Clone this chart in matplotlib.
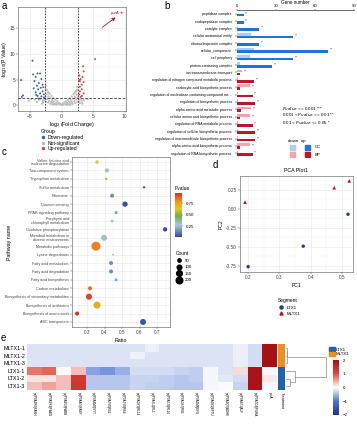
import numpy as np
import matplotlib
matplotlib.use("Agg")
import matplotlib.pyplot as plt
from matplotlib.colors import LinearSegmentedColormap, ListedColormap
from matplotlib.lines import Line2D
from matplotlib.patches import Patch
from matplotlib.ticker import MultipleLocator

plt.rcParams['font.family'] = ['Liberation Sans', 'DejaVu Sans']

# ---- a: volcano ----
ns_x = [0.0, 0.15, -0.15, 0.3, -0.3, 0.45, -0.45, 0.6, -0.6, 0.7, -0.7, 0.9, -0.9, 1.0, -1.0,
        1.1, -1.1, 1.2, -1.2, 1.3, -1.3, 1.4, -1.4, 1.5, -1.5, 1.6, -1.6, 1.7, -1.7, 1.8, -1.8,
        1.9, -1.9, 2.0, -2.0, 2.1, -2.1, 2.2, -2.2, 2.3, -2.3, 2.4, -2.4, 2.5, -2.5, 2.5, -2.5,
        2.55, -2.55, 2.45, -2.45, 2.35, -2.35, 2.15, -2.15, 1.75, -1.75, 0.85, -0.85, 1.35, -1.35,
        2.05, -2.05, 1.55, -1.55,
        2.8, 3.0, 3.2, 2.9, 3.5, 4.1, 3.3, -2.8, -3.0, -3.3, -3.6, -4.2, -4.8, -5.2, -2.9, -3.1, -3.9]
ns_y = [0.05, 0.3, 0.25, 0.1, 0.15, 0.5, 0.45, 0.2, 0.25, 0.7, 0.75, 0.4, 0.35, 1.0, 1.05,
        0.15, 0.2, 0.65, 0.7, 1.3, 1.4, 0.3, 0.35, 0.95, 1.0, 1.7, 1.8, 0.5, 0.6, 1.3, 1.35,
        2.1, 2.2, 0.8, 0.85, 1.6, 1.7, 2.5, 2.6, 1.1, 1.2, 2.0, 2.1, 3.0, 3.1, 0.6, 0.7,
        1.5, 1.6, 3.6, 3.8, 2.8, 3.0, 0.4, 0.5, 0.2, 0.25, 0.05, 0.08, 0.05, 0.1,
        2.3, 2.4, 0.6, 0.65,
        0.9, 1.1, 0.7, 0.4, 1.0, 1.2, 0.3, 1.0, 0.8, 1.2, 1.0, 1.1, 1.2, 0.9, 0.5, 0.3, 0.6]
down_x = [-4.6, -4.5, -3.8, -3.4, -4.1, -3.2, -4.3, -3.6, -3.9, -3.0, -4.4, -3.7, -3.3, -4.1,
          -3.4, -3.0, -3.8, -3.2, -6.1, -6.3, -2.8, -2.8, -3.6, -4.0, -2.9, -6.4]
down_y = [8.7, 6.0, 6.2, 6.2, 5.5, 5.1, 4.7, 4.3, 3.8, 4.0, 3.3, 3.1, 3.4, 2.5,
          2.3, 2.7, 1.8, 1.7, 1.9, 1.6, 2.1, 1.5, 1.3, 2.0, 3.5, 4.9]
up_x = [3.2, 2.9, 3.0, 3.3, 2.8, 2.9, 3.2, 2.9, 3.5, 2.8, 3.2, 3.0, 3.4, 3.5, 5.3, 2.8, 3.5, 9.5]
up_y = [4.0, 4.7, 5.1, 5.5, 4.9, 3.6, 3.1, 2.7, 2.3, 2.1, 1.8, 1.6, 7.6, 6.6, 9.0, 5.8, 4.5, 18.1]
fc_cut = 2.6
p_cut = 1.3

# ---- b: GO bars ----
go_terms = ['peptidase complex', 'endopeptidase complex', 'catalytic complex',
            'cellular anatomical entity', 'ribonucleoprotein complex', 'cellular_component',
            'cell periphery', 'protein-containing complex', 'ion transmembrane transport',
            'regulation of nitrogen compound metabolic process',
            'carboxylic acid biosynthetic process',
            'regulation of nucleobase-containing compound me...',
            'regulation of biosynthetic process', 'alpha-amino acid metabolic process',
            'cellular amino acid biosynthetic process', 'regulation of RNA metabolic process',
            'regulation of cellular biosynthetic process',
            'regulation of macromolecule biosynthetic process',
            'alpha-amino acid biosynthetic process', 'regulation of RNA biosynthetic process']
go_class = ['CC'] * 8 + ['BP'] * 12
go_down = [0, 0, 1, 11, 0, 13, 10, 2, 4, 1, 10, 1, 1, 11, 10, 1, 1, 1, 10, 1]
go_up = [5, 5, 17, 43, 17, 70, 43, 27, 2, 13, 2, 12, 14, 3, 2, 12, 14, 14, 2, 12]
go_star = ['***'] * 20

# ---- c: KEGG bubbles ----
kegg_terms = ['Valine, leucine and\nisoleucine degradation', 'Two-component system',
              'Tryptophan metabolism', 'Sulfur metabolism', 'Ribosome', 'Quorum sensing',
              'PPAR signaling pathway', 'Porphyrin and\nchlorophyll metabolism',
              'Oxidative phosphorylation', 'Microbial metabolism in\ndiverse environments',
              'Metabolic pathways', 'Lysine degradation', 'Fatty acid metabolism',
              'Fatty acid degradation', 'Fatty acid biosynthesis', 'Carbon metabolism',
              'Biosynthesis of secondary metabolites', 'Biosynthesis of antibiotics',
              'Biosynthesis of amino acids', 'ABC transporters']
kegg_ratio = [0.357, 0.414, 0.409, 0.626, 0.443, 0.517, 0.466, 0.443, 0.746, 0.397,
              0.351, 0.449, 0.437, 0.437, 0.466, 0.317, 0.311, 0.357, 0.243, 0.62]
kegg_count = [50, 73, 25, 25, 73, 130, 40, 40, 85, 165, 370, 18, 73, 73, 40, 73, 165, 220, 73, 165]
kegg_p = [0.62, 0.32, 0.55, 0.04, 0.15, 0.03, 0.18, 0.27, 0.02, 0.3,
          0.82, 0.28, 0.15, 0.15, 0.2, 0.85, 0.93, 0.72, 0.97, 0.03]

# ---- d: PCA ----
pca_group = ['LTX1', 'LTX1', 'LTX1', 'MLTX1', 'MLTX1', 'MLTX1']
pc1 = [0.20, 0.376, 0.519, 0.19, 0.475, 0.523]
pc2 = [-0.76, -0.49, -0.07, 0.09, 0.28, 0.37]

# ---- e: heatmap ----
hm_rows = ['MLTX1-1', 'MLTX1-2', 'MLTX1-3', 'LTX1-1', 'LTX1-2', 'LTX1-3']
hm_cols = ['sp|P0A6R0|FABH', 'sp|P0AEK4|FABG', 'sp|P0A953|FABB', 'sp|P0AAI5|FABF',
           'sp|P0A8M3|SYT', 'sp|P0A7V0|RS2', 'sp|P0A7V8|RS4', 'sp|P0ADY3|RL14',
           'sp|P0A7L0|RL1', 'sp|P0A7J3|RL10', 'sp|P0AG67|RS1', 'sp|P0A6M8|EFG',
           'sp|P0A6N1|EFTU', 'sp|P0A9Q7|ADHE', 'sp|P0AB71|ALF', 'sp|P0A7D4|PURA', 'purA']
hm_mltx1_1 = [-0.2, -0.2, -0.2, -0.2, -0.2, -0.2, -0.2, -0.2, -0.1, -0.2, -0.2, -0.2, -0.2, -0.2, -0.1, -0.25, 1.95]
hm_mltx1_2 = [-0.2, -0.2, -0.2, -0.2, -0.2, -0.2, -0.2, -0.08, -0.2, -0.2, -0.2, -0.2, -0.2, -0.2, -0.1, -0.25, 1.95]
hm_mltx1_3 = [-0.2, -0.2, -0.2, -0.2, -0.2, -0.2, -0.2, -0.2, -0.2, -0.2, -0.2, -0.2, -0.2, -0.2, -0.12, -0.25, 1.95]
hm_ltx1_1 = [0.75, 0.85, 0.02, 0.35, -0.65, -0.75, -0.55, -0.25, -0.25, -0.25, -0.3, -0.35, -0.05, -0.2, 0.2, 1.9, -0.05]
hm_ltx1_2 = [0.15, 0.15, 0.35, 1.25, -0.4, -0.4, -0.4, -0.3, -0.3, -0.35, -0.4, -0.35, -0.05, -0.15, -0.25, 1.9, 0.12]
hm_ltx1_3 = [0.35, 0.5, 0.35, 1.3, -0.4, -0.4, -0.4, -0.3, -0.35, -0.35, -0.4, -0.4, -0.05, -0.03, -0.3, 1.9, -0.05]
hm_treat = ['MLTX1', 'MLTX1', 'MLTX1', 'LTX1', 'LTX1', 'LTX1']
# row dendrogram merges: (left, right, height); ids >= 6 are earlier merges
hm_merges = [(0, 1, 0.05), (6, 2, 0.1), (4, 5, 0.4), (3, 8, 0.9), (7, 9, 4.0)]

W, H = 357, 425
fig = plt.figure(figsize=(W / 100, H / 100), dpi=100)


def box(x0, y0, x1, y1):
    return [x0 / W, 1 - y1 / H, (x1 - x0) / W, (y1 - y0) / H]


def bw(ax, fs=3.6):
    ax.set_facecolor('white')
    for s in ax.spines.values():
        s.set_color('#555555')
        s.set_linewidth(0.4)
    ax.grid(True, which='major', color='#e6e6e6', lw=0.4)
    ax.grid(True, which='minor', color='#f2f2f2', lw=0.3)
    ax.set_axisbelow(True)
    ax.tick_params(which='both', labelsize=fs, length=1.2, width=0.3, pad=1, colors='#444444')
    ax.tick_params(which='minor', length=0)


def letter(x, y, s):
    fig.text(x / W, 1 - y / H, s, fontsize=7, va='top', ha='left')


# ===== a =====
ax = fig.add_axes(box(18, 7, 126, 111))
bw(ax)
ax.tick_params(axis='y', pad=0.6)
ax.scatter(ns_x, ns_y, s=2.5, c='#bdbdbd', edgecolors='none')
ax.scatter(down_x, down_y, s=2, c='#3f5fae', edgecolors='none')
ax.scatter(up_x, up_y, s=2, c='#d8414f', edgecolors='none')
ax.axvline(-fc_cut, color='#333333', ls=(0, (2, 1.5)), lw=0.6)
ax.axvline(fc_cut, color='#333333', ls=(0, (2, 1.5)), lw=0.6)
ax.axhline(p_cut, color='#333333', ls=(0, (3, 2)), lw=0.6)
ax.annotate('', xy=(up_x[-1] - 0.6, up_y[-1] - 0.6), xytext=(6.1, 14.9),
            arrowprops=dict(arrowstyle='-|>', color='#c8102e', lw=0.6, mutation_scale=5))
ax.text(up_x[-1] - 0.4, up_y[-1], 'purA', color='#c8102e', fontsize=3, style='italic',
        ha='right', va='center')
ax.set_xlim(-6.9, 10.2)
ax.set_ylim(-1.15, 19.2)
ax.set_xticks([-5, 0, 5, 10])
ax.set_yticks([0, 5, 10, 15])
ax.xaxis.set_minor_locator(MultipleLocator(2.5))
ax.yaxis.set_minor_locator(MultipleLocator(2.5))
ax.set_xlabel('log$_2$ (Fold Change)', fontsize=3.8, labelpad=0.8)
ax.set_ylabel('-log$_{10}$(P Value)', fontsize=3.8, labelpad=0.3)
letter(2, 1, 'a')

hand_a = [Line2D([], [], marker='o', ls='', color=c, markersize=1.5)
          for c in ['#3f5fae', '#bdbdbd', '#d8414f']]
fig.legend(hand_a, ['Down-regulated', 'Not-significant', 'Up-regulated'], title='Group',
           loc='upper left', bbox_to_anchor=(38 / W, 1 - 127 / H), frameon=False,
           fontsize=3.6, title_fontsize=3.8, handlelength=1, handletextpad=0.5,
           labelspacing=0.1, borderpad=0, alignment='left')

# ===== b =====
light = {'CC': '#a9cff5', 'BP': '#f3a5a8'}
dark = {'CC': '#1f74d9', 'BP': '#c2142b'}
ax = fig.add_axes(box(237, 10, 354, 157))
yb = np.arange(len(go_terms))
ax.barh(yb - 0.19, go_down, height=0.36, color=[light[c] for c in go_class])
ax.barh(yb + 0.19, go_up, height=0.36, color=[dark[c] for c in go_class])
for i in range(len(go_terms)):
    ax.text(max(go_down[i], go_up[i]) + 1.2, yb[i] - 0.05, go_star[i], fontsize=1.8,
            va='center', ha='left', color='#333333')
ax.set_ylim(len(go_terms) - 0.5, -0.5)
ax.set_xlim(0, 88)
ax.set_xticks([0, 30, 60, 90])
ax.xaxis.tick_top()
ax.xaxis.set_label_position('top')
ax.set_xlabel('Gene number', fontsize=3.3, labelpad=0.2)
ax.set_yticks(yb)
ax.set_yticklabels(go_terms, fontsize=2.5)
for s in ['right', 'bottom', 'left']:
    ax.spines[s].set_visible(False)
ax.spines['top'].set_linewidth(0.4)
ax.tick_params(axis='x', labelsize=3.1, length=1.0, width=0.3, pad=0.3)
ax.tick_params(axis='y', length=1.2, width=0.3, pad=2.5)
letter(164, 1, 'b')

for k, txt in enumerate([r'$\it{Pvalue}$ <= 0.001 ***',
                         r'0.001 < $\it{Pvalue}$ <= 0.01 **',
                         r'0.01 < $\it{Pvalue}$ <= 0.05 *']):
    fig.text(282 / W, 1 - (108 + 7 * k) / H, txt, fontsize=3.2, va='center')
fig.text(288 / W, 1 - 141 / H, 'down  up', fontsize=3.2, va='center')
lax = fig.add_axes(box(288, 144, 330, 158))
lax.set_xlim(0, 42)
lax.set_ylim(14, 0)
lax.axis('off')
for r, cls in enumerate(['CC', 'BP']):
    lax.add_patch(plt.Rectangle((2, 1 + 7 * r), 5, 5, color=light[cls]))
    lax.add_patch(plt.Rectangle((17, 1 + 7 * r), 5, 5, color=dark[cls]))
    lax.text(27, 3.5 + 7 * r, cls, fontsize=3.2, va='center')

# ===== c =====
pcmap = LinearSegmentedColormap.from_list(
    'pv', [(0, '#2d4d9c'), (0.27, '#a8c6dc'), (0.48, '#74ad45'), (0.64, '#dcc91d'),
           (0.8, '#f29a1c'), (1, '#d7301f')])
ax = fig.add_axes(box(72, 157, 170, 327))
bw(ax, fs=3.4)
yc = np.arange(len(kegg_terms))
sc = ax.scatter(kegg_ratio, yc, s=np.array(kegg_count) * 0.114, c=kegg_p, cmap=pcmap,
                vmin=0.01, vmax=0.97, edgecolors='none', zorder=3)
ax.set_ylim(len(kegg_terms) - 0.4, -0.6)
ax.set_xlim(0.214, 0.774)
ax.set_xticks([0.3, 0.4, 0.5, 0.6, 0.7])
ax.xaxis.set_minor_locator(MultipleLocator(0.05))
ax.set_yticks(yc)
ax.set_yticklabels(kegg_terms, fontsize=2.7, linespacing=0.95)
ax.set_xlabel('Ratio', fontsize=3.8, labelpad=2)
ax.set_ylabel('Pathway name', fontsize=3.8)
ax.yaxis.set_label_coords((12 - 72) / 98, 0.5)
letter(2, 147, 'c')

cax = fig.add_axes(box(175, 193, 182, 237))
cb = fig.colorbar(sc, cax=cax, ticks=[0.25, 0.5, 0.75])
cb.outline.set_visible(False)
cb.ax.tick_params(labelsize=3.2, length=1, width=0.3, pad=1.5)
cb.ax.set_yticklabels(['0.25', '0.50', '0.75'])
fig.text(175 / W, 1 - 188 / H, 'Pvalue', fontsize=3.5, va='center')

cnt_levels = [50, 100, 150, 200]
hand_c = [Line2D([], [], marker='o', ls='', color='black',
                 markersize=np.sqrt(c * 0.114)) for c in cnt_levels]
fig.legend(hand_c, [str(c) for c in cnt_levels], title='Count', loc='upper left',
           bbox_to_anchor=(174 / W, 1 - 249 / H), frameon=False, fontsize=3.2,
           title_fontsize=3.5, handlelength=1.2, handletextpad=0.8, labelspacing=0.55,
           borderpad=0, alignment='left')

# ===== d =====
seg_style = {'LTX1': ('o', '#1d438f', 6), 'MLTX1': ('^', '#c0101f', 7)}
ax = fig.add_axes(box(240, 176, 353, 272))
bw(ax, fs=3.4)
for g, (mk, col, sz) in seg_style.items():
    xs = [pc1[i] for i in range(len(pc1)) if pca_group[i] == g]
    ys = [pc2[i] for i in range(len(pc2)) if pca_group[i] == g]
    ax.scatter(xs, ys, marker=mk, c=col, s=sz, edgecolors='none', zorder=3)
ax.set_xlim(0.174, 0.535)
ax.set_ylim(-0.83, 0.434)
ax.set_xticks([0.2, 0.3, 0.4, 0.5])
ax.set_yticks([-0.75, -0.5, -0.25, 0, 0.25])
ax.set_yticklabels(['-0.75', '-0.50', '-0.25', '0.00', '0.25'])
ax.xaxis.set_minor_locator(MultipleLocator(0.05))
ax.yaxis.set_minor_locator(MultipleLocator(0.125))
ax.set_title('PCA Plot1', fontsize=3.8, pad=3)
ax.set_xlabel('PC1', fontsize=3.6, labelpad=2)
ax.set_ylabel('PC2', fontsize=3.6, labelpad=2)
letter(213, 160, 'd')

hand_d = [Line2D([], [], marker=m, ls='', color=c, markersize=2.2) for m, c, s in seg_style.values()]
fig.legend(hand_d, list(seg_style.keys()), title='Segment', loc='upper left',
           bbox_to_anchor=(276 / W, 1 - 296 / H), frameon=False, fontsize=3.2,
           title_fontsize=3.5, handlelength=1.2, handletextpad=0.6, labelspacing=0.5,
           borderpad=0, alignment='left')

# ===== e =====
hcmap = LinearSegmentedColormap.from_list(
    'hm', ['#26318a', '#4a72d0', '#ffffff', '#e04a3f', '#a50f15'])
heat = np.array([hm_mltx1_1, hm_mltx1_2, hm_mltx1_3, hm_ltx1_1, hm_ltx1_2, hm_ltx1_3])
ax = fig.add_axes(box(27, 344, 277, 390))
im = ax.imshow(heat, cmap=hcmap, vmin=-2, vmax=2, aspect='auto', interpolation='nearest')
ax.set_xticks(range(len(hm_cols)))
ax.set_xticklabels(hm_cols, rotation=270, fontsize=2.2)
ax.set_yticks(range(len(hm_rows)))
ax.set_yticklabels(hm_rows, fontsize=3.9)
ax.tick_params(length=0, pad=1.5)
for s in ax.spines.values():
    s.set_visible(False)
letter(1, 333, 'e')

treat_col = {'LTX1': '#1f63ad', 'MLTX1': '#f28c1c'}
tax = fig.add_axes(box(278, 344, 285, 390))
tax.imshow(np.array([[list(treat_col).index(t)] for t in hm_treat]),
           cmap=ListedColormap(list(treat_col.values())), vmin=0, vmax=1, aspect='auto')
tax.set_xticks([0])
tax.set_xticklabels(['Treatment'], rotation=270, fontsize=2.8)
tax.set_yticks([])
tax.tick_params(length=0, pad=1.5)
for s in tax.spines.values():
    s.set_visible(False)

dax = fig.add_axes(box(286, 344, 331, 390))
dax.set_ylim(len(hm_rows) - 0.5, -0.5)
dax.set_xlim(0, 4.5)
dax.axis('off')
nodes = {i: (float(i), 0.0) for i in range(len(hm_rows))}
for k, (a, b, h) in enumerate(hm_merges):
    ya, ha = nodes[a]
    yb2, hb = nodes[b]
    dax.plot([ha, h, h, hb], [ya, ya, yb2, yb2], color='#8a8a8a', lw=0.5)
    nodes[len(hm_rows) + k] = ((ya + yb2) / 2, h)

fig.legend([Patch(color=c) for c in treat_col.values()], list(treat_col.keys()),
           loc='upper left', bbox_to_anchor=(327 / W, 1 - 345 / H), frameon=False,
           fontsize=3.2, handlelength=1.2, handleheight=0.9, handletextpad=0.3,
           labelspacing=0.05, borderpad=0)

hcax = fig.add_axes(box(333, 360, 339, 415))
hcb = fig.colorbar(im, cax=hcax, ticks=[-2, -1, 0, 1, 2])
hcb.outline.set_visible(False)
hcb.ax.tick_params(labelsize=3.2, length=0, pad=2.5)

fig.savefig('out.png', dpi=100)
